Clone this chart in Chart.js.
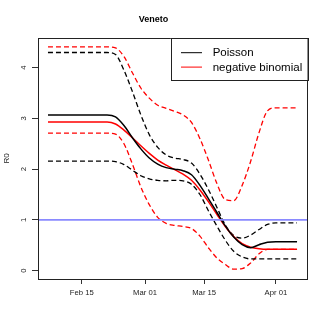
<!DOCTYPE html>
<html>
<head>
<meta charset="utf-8">
<script src="https://cdn.jsdelivr.net/npm/chart.js@4.4.1/dist/chart.umd.min.js"></script>
<style>
html,body{margin:0;padding:0;background:#fff}
</style>
</head>
<body>
<canvas id="chart" width="327" height="327"></canvas>
<script>
// day of year 2020 (Feb 15 = 46, Mar 01 = 61, ...)
const days = [38, 45, 52, 54, 56, 58, 60, 62, 64, 66, 68, 70, 72, 74, 76, 78, 80, 82, 84, 86, 88, 90, 92, 94, 97];

const poissonMean  = [3.07, 3.07, 3.07, 3.03, 2.86, 2.62, 2.40, 2.22, 2.10, 2.03, 2.00, 1.97, 1.89, 1.68, 1.42, 1.15, 0.88, 0.66, 0.51, 0.45, 0.51, 0.56, 0.57, 0.57, 0.57];
const poissonUpper = [4.30, 4.30, 4.30, 4.26, 3.95, 3.53, 3.07, 2.68, 2.43, 2.28, 2.22, 2.19, 2.12, 1.90, 1.60, 1.25, 0.90, 0.69, 0.64, 0.70, 0.81, 0.91, 0.94, 0.94, 0.94];
const poissonLower = [2.16, 2.16, 2.16, 2.15, 2.09, 1.98, 1.87, 1.81, 1.78, 1.77, 1.78, 1.77, 1.70, 1.50, 1.18, 0.88, 0.60, 0.38, 0.27, 0.23, 0.23, 0.23, 0.23, 0.23, 0.23];

const nbMean  = [2.93, 2.93, 2.93, 2.89, 2.77, 2.62, 2.46, 2.31, 2.18, 2.08, 1.99, 1.90, 1.78, 1.59, 1.36, 1.11, 0.87, 0.67, 0.53, 0.46, 0.43, 0.42, 0.42, 0.42, 0.42];
const nbUpper = [4.41, 4.41, 4.41, 4.39, 4.22, 3.90, 3.60, 3.40, 3.26, 3.20, 3.14, 3.07, 2.92, 2.60, 2.18, 1.72, 1.40, 1.38, 1.68, 2.15, 2.72, 3.15, 3.21, 3.21, 3.21];
const nbLower = [2.71, 2.71, 2.71, 2.69, 2.50, 2.10, 1.65, 1.30, 1.05, 0.93, 0.89, 0.87, 0.83, 0.68, 0.45, 0.25, 0.12, 0.03, 0.04, 0.15, 0.33, 0.42, 0.42, 0.42, 0.42];

const tickDays = [46, 61, 75, 92];
const tickLabels = ['Feb 15', 'Mar 01', 'Mar 15', 'Apr 01'];
const yTicks = [0, 1, 2, 3, 4];
const refLevel = 1;

const xMin = 35.64, xMax = 99.36;
const yMin = -0.166, yMax = 4.586;

const FONT = '"Liberation Sans", Arial, sans-serif';

const pts = vals => days.map((d, i) => ({x: d, y: vals[i]}));

function line(label, vals, color, dashed, inLegend) {
    return {
        label: label,
        data: pts(vals),
        borderColor: color,
        borderWidth: dashed ? 1.3 : 1.5,
        borderDash: dashed ? [5, 3] : [],
        pointRadius: 0,
        fill: false,
        cubicInterpolationMode: 'monotone',
        inLegend: inLegend
    };
}

// box around the plot region
const boxPlugin = {
    id: 'plotBox',
    afterDraw(chart) {
        const {ctx, chartArea: a} = chart;
        ctx.save();
        ctx.strokeStyle = '#222';
        ctx.lineWidth = 1;
        ctx.strokeRect(Math.round(a.left) + 0.5, Math.round(a.top) + 0.5,
            Math.round(a.right - a.left), Math.round(a.bottom - a.top));
        ctx.restore();
    }
};

// legend in the top right corner, R style
const legendPlugin = {
    id: 'cornerLegend',
    afterDraw(chart) {
        const {ctx, chartArea: a} = chart;
        const items = chart.data.datasets.filter(d => d.inLegend);
        ctx.save();
        ctx.font = '11.5px ' + FONT;
        const w = Math.max(...items.map(d => ctx.measureText(d.label).width));
        const right = Math.round(a.right) + 0.5;
        const left = right - (w + 10.3 + 21 + 10.7 + 5.3);
        const top = Math.round(a.top) + 0.5;
        const rowH = 14.4;
        const h = 14.2 + rowH * (items.length - 1) + 13.5;
        ctx.fillStyle = '#fff';
        ctx.fillRect(left, top, right - left, h);
        ctx.strokeStyle = '#222';
        ctx.lineWidth = 1;
        ctx.strokeRect(Math.round(left) + 0.5, top, Math.round(right - left), Math.round(h));
        ctx.textBaseline = 'middle';
        ctx.textAlign = 'left';
        items.forEach((d, i) => {
            const y = top + 14.2 + i * rowH;
            ctx.beginPath();
            ctx.strokeStyle = d.borderColor;
            ctx.lineWidth = 1;
            ctx.moveTo(left + 10.3, y);
            ctx.lineTo(left + 31.3, y);
            ctx.stroke();
            ctx.fillStyle = '#000';
            ctx.fillText(d.label, left + 42, y + 0.5);
        });
        ctx.restore();
    }
};

const ctx = document.getElementById('chart').getContext('2d');
new Chart(ctx, {
    type: 'line',
    data: {
        datasets: [
            line('Poisson', poissonMean, '#000000', false, true),
            line('negative binomial', nbMean, '#ff0000', false, true),
            line('Poisson upper', poissonUpper, '#000000', true, false),
            line('Poisson lower', poissonLower, '#000000', true, false),
            line('NB upper', nbUpper, '#ff0000', true, false),
            line('NB lower', nbLower, '#ff0000', true, false),
            {
                label: 'R0 = 1',
                data: [{x: xMin, y: refLevel}, {x: xMax, y: refLevel}],
                borderColor: '#8a8aff',
                borderWidth: 1.7,
                pointRadius: 0,
                order: -1,
                inLegend: false
            }
        ]
    },
    options: {
        responsive: false,
        animation: false,
        layout: {padding: {left: 0, right: 20, top: 0, bottom: 0}},
        plugins: {
            legend: {display: false},
            tooltip: {enabled: false},
            title: {
                display: true,
                text: 'Veneto',
                color: '#000',
                font: {family: FONT, size: 9, weight: 'bold'},
                padding: {top: 14.6, bottom: 12.6}
            }
        },
        scales: {
            x: {
                type: 'linear',
                min: xMin,
                max: xMax,
                afterBuildTicks: s => { s.ticks = tickDays.map(v => ({value: v})); },
                afterFit: s => { s.height = 48; },
                ticks: {
                    autoSkip: false,
                    maxRotation: 0,
                    padding: 4.5,
                    color: '#222',
                    font: {family: FONT, size: 7.7},
                    callback: v => tickLabels[tickDays.indexOf(v)]
                },
                grid: {drawOnChartArea: false, drawTicks: true, tickLength: 5, tickColor: '#333'},
                border: {display: false}
            },
            y: {
                min: yMin,
                max: yMax,
                afterBuildTicks: s => { s.ticks = yTicks.map(v => ({value: v})); },
                afterFit: s => { s.width = 38; },
                ticks: {
                    minRotation: 90,
                    maxRotation: 90,
                    crossAlign: 'center',
                    padding: 6,
                    color: '#222',
                    font: {family: FONT, size: 7.7}
                },
                grid: {drawOnChartArea: false, drawTicks: true, tickLength: 6, tickColor: '#333'},
                border: {display: false},
                title: {
                    display: true,
                    text: 'R0',
                    color: '#222',
                    font: {family: FONT, size: 8},
                    padding: {top: 2, bottom: 0}
                }
            }
        }
    },
    plugins: [boxPlugin, legendPlugin]
});
</script>
</body>
</html>
